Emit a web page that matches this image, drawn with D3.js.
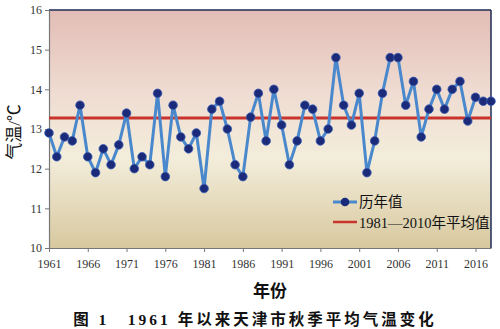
<!DOCTYPE html>
<html><head><meta charset="utf-8">
<script src="https://cdn.jsdelivr.net/npm/d3@7"></script>
<style>body{margin:0;background:#fff}svg{display:block}</style>
</head><body>
<script>
const years = d3.range(1961, 2019);
const temps = [12.9,12.3,12.8,12.7,13.6,12.3,11.9,12.5,12.1,12.6,
               13.4,12.0,12.3,12.1,13.9,11.8,13.6,12.8,12.5,12.9,
               11.5,13.5,13.7,13.0,12.1,11.8,13.3,13.9,12.7,14.0,
               13.1,12.1,12.7,13.6,13.5,12.7,13.0,14.8,13.6,13.1,
               13.9,11.9,12.7,13.9,14.8,14.8,13.6,14.2,12.8,13.5,
               14.0,13.5,14.0,14.2,13.2,13.8,13.7,13.7];
const normal = 13.28;
const xTicks = [1961,1966,1971,1976,1981,1986,1991,1996,2001,2006,2011,2016];
const yTicks = [10,11,12,13,14,15,16];
const legendLabels = ["历年值","1981—2010年平均值"];

const W=500,H=329;
const m={l:49,r:491,t:10,b:248};
const svg=d3.select("body").append("svg").attr("width",W).attr("height",H);
const x=d3.scaleLinear().domain([1961,2018]).range([m.l,m.r]);
const y=d3.scaleLinear().domain([10,16]).range([m.b,m.t]);
const font="'Liberation Serif','Noto Sans CJK SC',serif";

const defs=svg.append("defs");
const g=defs.append("linearGradient").attr("id","bg").attr("x1",0).attr("x2",0).attr("y1",0).attr("y2",1);
g.append("stop").attr("offset","0%").attr("stop-color","#e2bdb6");
g.append("stop").attr("offset","35%").attr("stop-color","#efdcd2");
g.append("stop").attr("offset","62%").attr("stop-color","#f3eddb");
g.append("stop").attr("offset","100%").attr("stop-color","#d7c89e");
defs.append("filter").attr("id","soft").append("feGaussianBlur").attr("stdDeviation",0.5);

svg.append("rect").attr("x",m.l).attr("y",m.t).attr("width",m.r-m.l).attr("height",m.b-m.t).attr("fill","url(#bg)");
svg.append("line").attr("x1",m.l).attr("x2",m.r).attr("y1",m.t).attr("y2",m.t).attr("stroke","#1c2a55").attr("stroke-width",1.5);
svg.append("line").attr("x1",m.r).attr("x2",m.r).attr("y1",m.t).attr("y2",m.b).attr("stroke","#1c2a55").attr("stroke-width",1.5);

const xa=svg.append("g").attr("transform",`translate(0,${m.b})`)
  .call(d3.axisBottom(x).tickValues(xTicks).tickFormat(d3.format("d")).tickSize(4).tickSizeOuter(0));
const ya=svg.append("g").attr("transform",`translate(${m.l},0)`)
  .call(d3.axisLeft(y).tickValues(yTicks).tickFormat(d3.format("d")).tickSize(4).tickSizeOuter(0));
[xa,ya].forEach(a=>{
  a.select(".domain").attr("stroke","#777").attr("stroke-width",1.2);
  a.selectAll(".tick line").attr("stroke","#777");
  a.selectAll("text").attr("font-family",font).attr("font-size",12).attr("fill","#333");
});
xa.selectAll("text").attr("dy","1.1em");

svg.append("line").attr("x1",m.l).attr("x2",m.r).attr("y1",y(normal)).attr("y2",y(normal))
  .attr("stroke","#c8342c").attr("stroke-width",3);

const line=d3.line().x((d,i)=>x(years[i])).y(d=>y(d));
svg.append("path").datum(temps).attr("d",line).attr("fill","none")
  .attr("stroke","#4a88cc").attr("stroke-width",3).attr("stroke-linejoin","round").attr("filter","url(#soft)");
svg.append("g").selectAll("circle").data(temps).join("circle")
  .attr("cx",(d,i)=>x(years[i])).attr("cy",d=>y(d)).attr("r",4.3)
  .attr("fill","#1a2a7a").attr("stroke","#3a5cb0").attr("stroke-width",0.8).attr("filter","url(#soft)");

const lg=svg.append("g");
lg.append("line").attr("x1",333).attr("x2",357).attr("y1",202).attr("y2",202).attr("stroke","#4a88cc").attr("stroke-width",3);
lg.append("circle").attr("cx",345).attr("cy",202).attr("r",4.3).attr("fill","#1a2a7a");
lg.append("text").attr("x",359).attr("y",207).text(legendLabels[0]);
lg.append("line").attr("x1",333).attr("x2",357).attr("y1",222).attr("y2",222).attr("stroke","#c8342c").attr("stroke-width",2.5);
lg.append("text").attr("x",359).attr("y",228).text(legendLabels[1]);
lg.selectAll("text").attr("font-family",font).attr("font-size",14.5).attr("fill","#111");

svg.append("text").attr("transform","translate(20,132) rotate(-90)").attr("text-anchor","middle")
  .attr("font-family",font).attr("font-size",17).attr("fill","#111").text("气温/℃");
svg.append("text").attr("x",270).attr("y",297).attr("text-anchor","middle")
  .attr("font-family",font).attr("font-size",17).attr("font-weight","bold").attr("fill","#111").text("年份");
svg.append("text").attr("x",255).attr("y",325).attr("text-anchor","middle")
  .attr("font-family",font).attr("font-size",15.5).attr("font-weight","bold").attr("fill","#111")
  .attr("letter-spacing","3px").attr("xml:space","preserve").text("图 1　1961 年以来天津市秋季平均气温变化");
</script>
</body></html>
